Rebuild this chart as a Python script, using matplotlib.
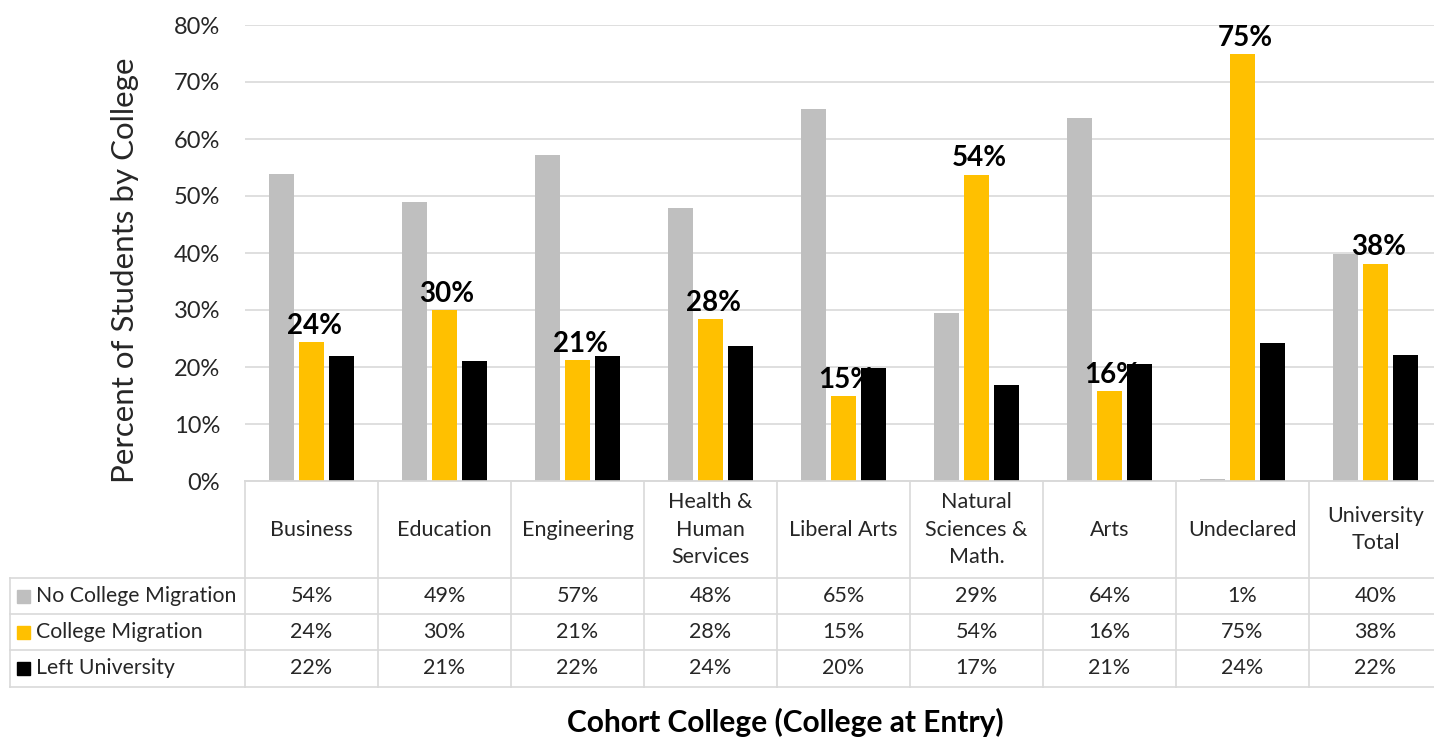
import matplotlib
matplotlib.use("Agg")
import matplotlib.pyplot as plt
import numpy as np

plt.rcParams['font.family'] = ['Lato', 'DejaVu Sans']

categories = ["Business", "Education", "Engineering", "Health &\nHuman\nServices",
              "Liberal Arts", "Natural\nSciences &\nMath.", "Arts", "Undeclared",
              "University\nTotal"]
series_names = ["No College Migration", "College Migration", "Left University"]
no_migration = [53.9, 48.9, 57.2, 47.9, 65.3, 29.5, 63.7, 0.4, 39.8]
migration = [24.3, 30.0, 21.2, 28.4, 14.9, 53.7, 15.8, 74.9, 38.1]
left_univ = [21.9, 21.1, 21.9, 23.7, 19.8, 16.8, 20.5, 24.2, 22.1]
table_no_migration = ["54%", "49%", "57%", "48%", "65%", "29%", "64%", "1%", "40%"]
table_migration = ["24%", "30%", "21%", "28%", "15%", "54%", "16%", "75%", "38%"]
table_left = ["22%", "21%", "22%", "24%", "20%", "17%", "21%", "24%", "22%"]
yticks = [0, 10, 20, 30, 40, 50, 60, 70, 80]

colors = ["#bfbfbf", "#ffc000", "#000000"]
grid_c = "#d9d9d9"
txt_c = "#262626"

W, H = 1434, 738
fig = plt.figure(figsize=(W / 100, H / 100), dpi=100)

def px_axes(x0, y0, x1, y1):
    return fig.add_axes([x0 / W, 1 - y1 / H, (x1 - x0) / W, (y1 - y0) / H])

plot_left, plot_right, plot_top, plot_bottom = 245, 1442, 25, 481
ax = px_axes(plot_left, plot_top, plot_right, plot_bottom)
n = len(categories)
x = np.arange(n)
bw = 25 / 133
step = 30 / 133
vals = [no_migration, migration, left_univ]
for i, (v, c) in enumerate(zip(vals, colors)):
    ax.bar(x + (i - 1) * step, v, width=bw, color=c, zorder=3)
for xi, v, t in zip(x, migration, table_migration):
    ax.text(xi + 0.02, v + 0.6, t, ha="center", va="bottom", fontsize=20,
            fontweight="bold", color="#000000", zorder=4)
ax.set_xlim(-0.5, n - 0.5)
ax.set_ylim(0, 80)
ax.set_yticks(yticks)
ax.set_yticklabels([f"{t}%" for t in yticks], fontsize=17, color=txt_c)
ax.set_xticks([])
ax.tick_params(axis="y", length=0, pad=18)
ax.grid(axis="y", color=grid_c, linewidth=1.2, zorder=0)
for s in ["top", "right", "left"]:
    ax.spines[s].set_visible(False)
ax.spines["bottom"].set_color(grid_c)
ax.spines["bottom"].set_linewidth(1.2)
fig.text(125 / W, 1 - 270 / H, "Percent of Students by College", rotation=90,
         ha="center", va="center", fontsize=22.5, color=txt_c)

# data table
tab_left, tab_top, tab_bottom = 10, 481, 687
tax = px_axes(tab_left, tab_top, plot_right, tab_bottom)
x_left = -0.5 - (plot_left - tab_left) / 133
tax.set_xlim(x_left, n - 0.5)
tax.set_ylim(tab_bottom, tab_top)
tax.axis("off")
row_edges = [481, 578, 614, 650, 687]
lw = 1.2
for k in range(n + 1):
    xe = k - 0.5
    tax.plot([xe, xe], [row_edges[0], row_edges[-1]], color=grid_c, lw=lw, clip_on=False)
tax.plot([x_left, x_left], [row_edges[1], row_edges[-1]], color=grid_c, lw=lw, clip_on=False)
for k, ye in enumerate(row_edges):
    xs = -0.5 if k == 0 else x_left
    tax.plot([xs, n - 0.5], [ye, ye], color=grid_c, lw=lw, clip_on=False)
hdr_y = (row_edges[0] + row_edges[1]) / 2
for xi, c in zip(x, categories):
    tax.text(xi, hdr_y, c, ha="center", va="center", fontsize=15.5, color=txt_c,
             linespacing=1.45)
rows = [table_no_migration, table_migration, table_left]
sq = 13
for r, (name, cells, col) in enumerate(zip(series_names, rows, colors)):
    yc = (row_edges[r + 1] + row_edges[r + 2]) / 2
    tax.add_patch(plt.Rectangle((x_left + 7 / 133, yc - sq / 2), sq / 133, sq, color=col,
                                clip_on=False))
    tax.text(x_left + 26 / 133, yc, name, ha="left", va="center", fontsize=15.3, color=txt_c)
    for xi, t in zip(x, cells):
        tax.text(xi, yc, t, ha="center", va="center", fontsize=15.5, color=txt_c)

fig.text(785 / W, 1 - 722 / H, "Cohort College (College at Entry)", ha="center",
         va="center", fontsize=21.5, fontweight="bold", color="#000000")

fig.savefig("out.png", dpi=100, facecolor="white")
